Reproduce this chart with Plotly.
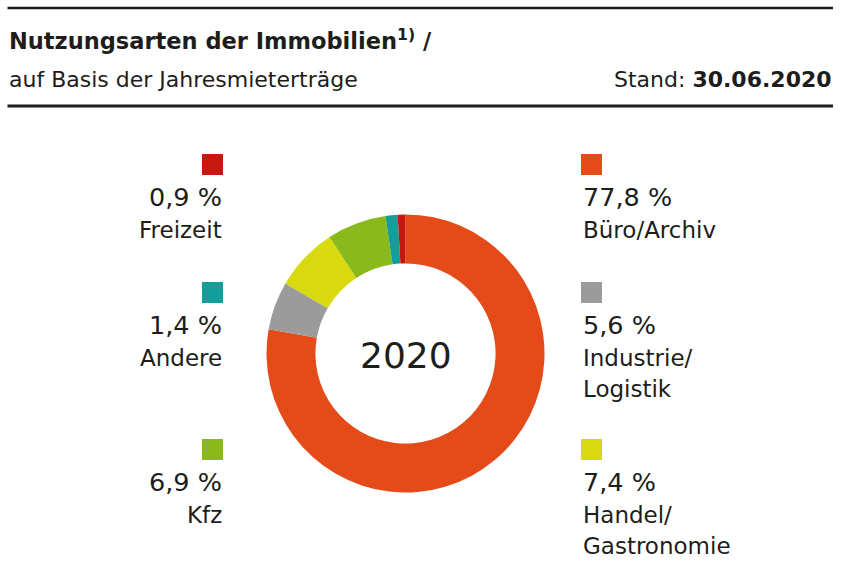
import plotly.graph_objects as go

# ---- data ----
categories = ["Büro/Archiv", "Industrie/<br>Logistik", "Handel/<br>Gastronomie", "Kfz", "Andere", "Freizeit"]
values = [77.8, 5.6, 7.4, 6.9, 1.4, 0.9]
value_labels = ["77,8 %", "5,6 %", "7,4 %", "6,9 %", "1,4 %", "0,9 %"]
colors = ["#E44B19", "#9B9B9B", "#D8D90E", "#8AB91B", "#139E99", "#C8170E"]
center_label = "2020"
title = "Nutzungsarten der Immobilien<sup>1)</sup> /"
subtitle = "auf Basis der Jahresmieterträge"
stand = "Stand: <b>30.06.2020</b>"

W, H = 844, 564
FONT = "DejaVu Sans"
TXT = "#1d1d1b"

def px(x):
    return x / W

def py(y):
    return 1 - y / H

# layout positions for legend blocks (side, anchor x, square top y)
legend_pos = [
    ("right", 581, 154),   # Büro
    ("right", 581, 282),   # Industrie
    ("right", 581, 439),   # Handel
    ("left", 223, 439),    # Kfz
    ("left", 223, 282),    # Andere
    ("left", 223, 154),    # Freizeit
]

cx, cy, R = 405.5, 353.5, 139

fig = go.Figure(go.Pie(
    values=values,
    labels=[c.replace("<br>", " ") for c in categories],
    marker=dict(colors=colors, line=dict(width=0)),
    hole=0.648,
    sort=False,
    direction="clockwise",
    rotation=0,
    textinfo="none",
    hoverinfo="label+value",
    showlegend=False,
    domain=dict(x=[px(cx - R), px(cx + R)], y=[py(cy + R), py(cy - R)]),
))

shapes = [
    dict(type="line", xref="paper", yref="paper", x0=px(7.5), x1=px(833), y0=py(8), y1=py(8),
         line=dict(color=TXT, width=2.5)),
    dict(type="line", xref="paper", yref="paper", x0=px(7.5), x1=px(833), y0=py(106), y1=py(106),
         line=dict(color=TXT, width=3)),
]
annotations = [
    dict(text=title, x=px(7), y=py(40), xref="paper", yref="paper", xanchor="left", yanchor="middle",
         showarrow=False, font=dict(family=FONT, size=22.5, color=TXT, weight="bold")),
    dict(text=subtitle, x=px(7), y=py(79), xref="paper", yref="paper", xanchor="left", yanchor="middle",
         showarrow=False, font=dict(family=FONT, size=22, color=TXT)),
    dict(text=stand, x=px(834), y=py(79), xref="paper", yref="paper", xanchor="right", yanchor="middle",
         showarrow=False, font=dict(family=FONT, size=22, color=TXT)),
    dict(text=center_label, x=px(cx + 0.5), y=py(355), xref="paper", yref="paper", xanchor="center",
         yanchor="middle", showarrow=False, font=dict(family=FONT, size=36, color=TXT)),
]

sq = 21
for cat, vl, col, (side, ax, ty) in zip(categories, value_labels, colors, legend_pos):
    if side == "right":
        x0, x1 = ax, ax + sq
        anchor = "left"
        tx = ax
    else:
        x0, x1 = ax - sq, ax
        anchor = "right"
        tx = ax + 1
    shapes.append(dict(type="rect", xref="paper", yref="paper", x0=px(x0), x1=px(x1),
                       y0=py(ty + sq), y1=py(ty), fillcolor=col, line=dict(width=0)))
    annotations.append(dict(text=vl, x=px(tx), y=py(ty + 43), xref="paper", yref="paper",
                            xanchor=anchor, yanchor="middle", showarrow=False,
                            font=dict(family=FONT, size=25.5, color=TXT)))
    for i, line in enumerate(cat.split("<br>")):
        annotations.append(dict(text=line, x=px(tx), y=py(ty + 75.5 + 31 * i), xref="paper",
                                yref="paper", xanchor=anchor, yanchor="middle", showarrow=False,
                                font=dict(family=FONT, size=23, color=TXT)))

fig.update_layout(
    width=W, height=H,
    margin=dict(l=0, r=0, t=0, b=0),
    paper_bgcolor="white", plot_bgcolor="white",
    shapes=shapes, annotations=annotations,
)

fig.write_html("out.html", config={"displayModeBar": False},
               post_script="document.body.style.margin='0px';")
